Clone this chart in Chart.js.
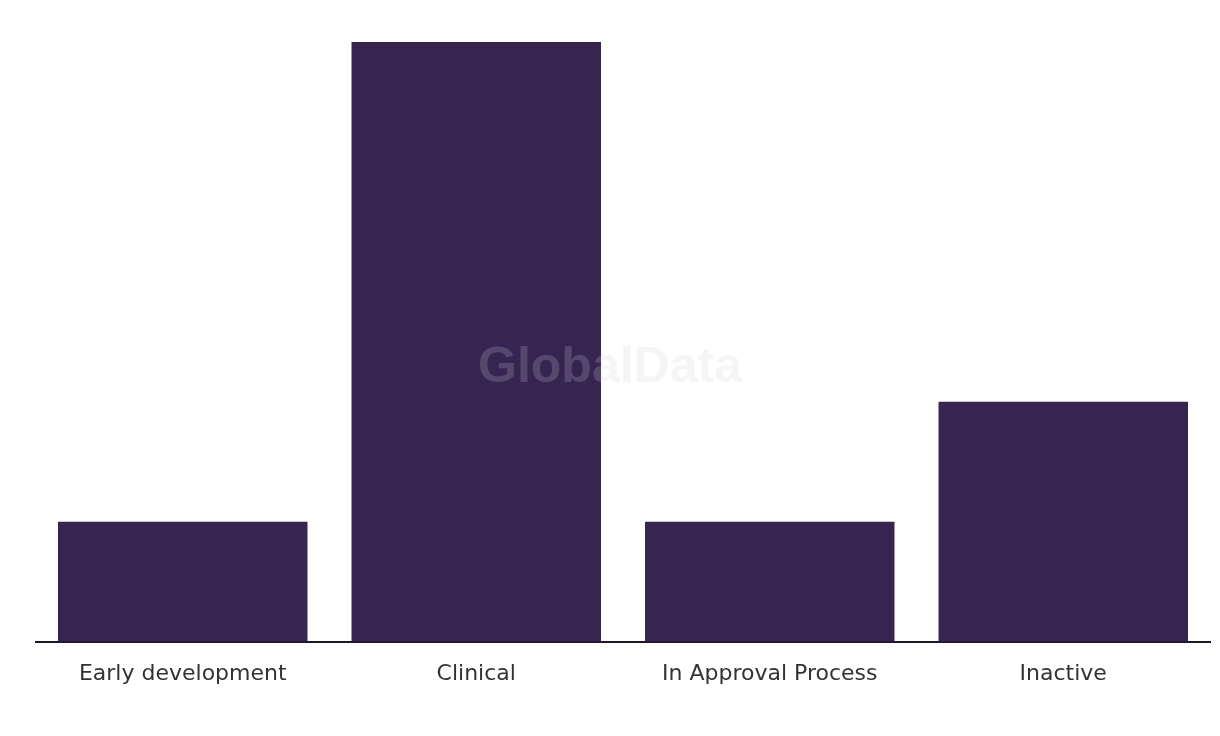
<!DOCTYPE html>
<html>
<head>
<meta charset="utf-8">
<script src="https://cdn.jsdelivr.net/npm/chart.js@4"></script>
<style>
  html, body { margin: 0; padding: 0; background: #fff; }
  #wrap { width: 1220px; height: 736px; }
</style>
</head>
<body>
<div id="wrap"><canvas id="chart"></canvas></div>
<script>
const categories = ['Early development', 'Clinical', 'In Approval Process', 'Inactive'];
const counts = [1, 5, 1, 2];

// watermark over the bars
const watermark = {
  id: 'watermark',
  afterDatasetsDraw(chart) {
    const c = chart.ctx;
    c.save();
    c.font = 'bold 50px "Liberation Sans", Arial, sans-serif';
    c.fillStyle = 'rgba(208,208,215,0.21)';
    c.textAlign = 'center';
    c.textBaseline = 'middle';
    c.fillText('GlobalData', 610, 368);
    c.restore();
  }
};

new Chart(document.getElementById('chart'), {
  type: 'bar',
  data: {
    labels: categories,
    datasets: [{
      data: counts,
      backgroundColor: '#362451',
      barPercentage: 0.85,
      categoryPercentage: 1
    }]
  },
  options: {
    responsive: true,
    maintainAspectRatio: false,
    animation: false,
    layout: { padding: { left: 36, right: 10, top: 42, bottom: 30 } },
    plugins: { legend: { display: false }, tooltip: { enabled: false } },
    scales: {
      x: {
        grid: { display: false, drawTicks: false },
        border: { color: '#1c1630', width: 2 },
        ticks: {
          color: '#333',
          padding: 19,
          font: { family: '"DejaVu Sans", sans-serif', size: 22 }
        }
      },
      y: {
        display: false,
        min: 0,
        max: 5
      }
    }
  },
  plugins: [watermark]
});
</script>
</body>
</html>
